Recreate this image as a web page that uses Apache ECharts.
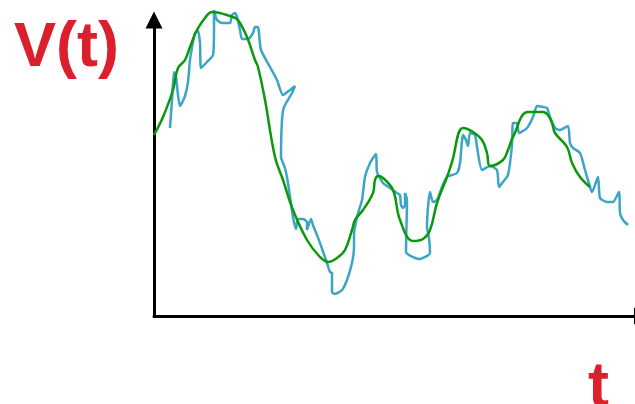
<!DOCTYPE html>
<html><head><meta charset="utf-8">
<script src="https://cdn.jsdelivr.net/npm/echarts@6/dist/echarts.min.js"></script>
<style>html,body{margin:0;padding:0;background:#fff}#c{width:635px;height:404px}</style>
</head><body><div id="c"></div>
<script>
const blueT = [16,18,20,22,24,26,31,34,36,39,41,44,46,47,53,59,60,60,63,68,76,78,81,83,86,88,94,99,101,104,105,107,116,123,129,136,141,138,130,128,127,131,134,139,142,144,149,153,153,157,159,166,173,176,178,178,181,188,193,198,200,200,203,208,211,216,222,223,229,236,243,246,247,249,251,251,253,252,266,276,275,273,274,276,279,283,288,293,303,306,309,312,314,316,321,323,328,336,343,345,349,354,358,359,363,365,373,379,383,389,393,396,401,406,414,416,419,426,431,436,438,444,446,453,459,465,466,469,474];
const blueV = [188,216,244,239,221,210,220,234,256,274,283,285,273,248,254,261,286,306,296,293,293,301,303,299,286,277,277,283,289,289,283,266,249,236,221,226,230,223,209,196,159,148,133,99,87,97,97,94,86,97,91,73,53,44,43,24,22,26,36,53,69,81,99,116,139,153,162,144,133,128,123,121,111,108,111,123,116,64,57,63,78,89,109,124,114,116,129,139,143,153,181,176,170,183,181,169,146,150,146,129,134,141,171,193,193,183,188,199,210,209,208,199,188,186,190,173,168,163,146,129,124,139,118,114,114,124,103,96,91];
const greenT = [0,9,19,24,31,36,43,51,58,79,84,93,101,104,111,121,129,139,153,166,174,183,191,198,201,209,219,221,224,229,239,246,259,269,276,283,293,298,309,319,328,333,336,349,354,359,374,389,394,398,401,413,418,426,436];
const greenV = [181,199,226,248,256,269,286,298,304,299,296,279,256,249,216,159,136,106,76,59,54,58,66,86,96,106,123,136,140,138,126,96,75,77,86,113,139,154,188,184,176,163,150,156,166,179,204,204,201,193,183,169,153,139,129];
const axisTitleY = 'V(t)';
const axisTitleX = 't';

const zip = (a, b) => a.map((x, i) => [x, b[i]]);
const chart = echarts.init(document.getElementById('c'), null, {renderer: 'canvas'});
const lineStyle = {color: '#000', width: 3};
chart.setOption({
  animation: false,
  grid: {left: 154, right: 0, top: 20, bottom: 88, containLabel: false},
  xAxis: {type: 'value', min: 0, max: 481, axisTick: {show: false}, axisLabel: {show: false}, splitLine: {show: false},
    axisLine: {show: true, onZero: false, symbol: ['none', 'triangle'], symbolSize: [17, 17], symbolOffset: [0, 7.5], lineStyle: lineStyle}},
  yAxis: {type: 'value', min: 0, max: 296, axisTick: {show: false}, axisLabel: {show: false}, splitLine: {show: false},
    axisLine: {show: true, onZero: false, symbol: ['none', 'triangle'], symbolSize: [17, 17], lineStyle: lineStyle}},
  series: [
    {type: 'line', data: zip(blueT, blueV), showSymbol: false, smooth: 0.2, clip: false,
      lineStyle: {color: '#3aa5c6', width: 2.5}},
    {type: 'line', data: zip(greenT, greenV), showSymbol: false, smooth: 0.4, clip: false,
      lineStyle: {color: '#0c980c', width: 2.5}}
  ],
  graphic: [
    {type: 'text', left: 14, top: 17, style: {text: axisTitleY, font: 'bold 63px "Liberation Sans", Arial, sans-serif', fill: '#dc1f2d'}},
    {type: 'text', left: 588, top: 357, style: {text: axisTitleX, font: 'bold 63px "Liberation Sans", Arial, sans-serif', fill: '#dc1f2d'}}
  ]
});
</script></body></html>
